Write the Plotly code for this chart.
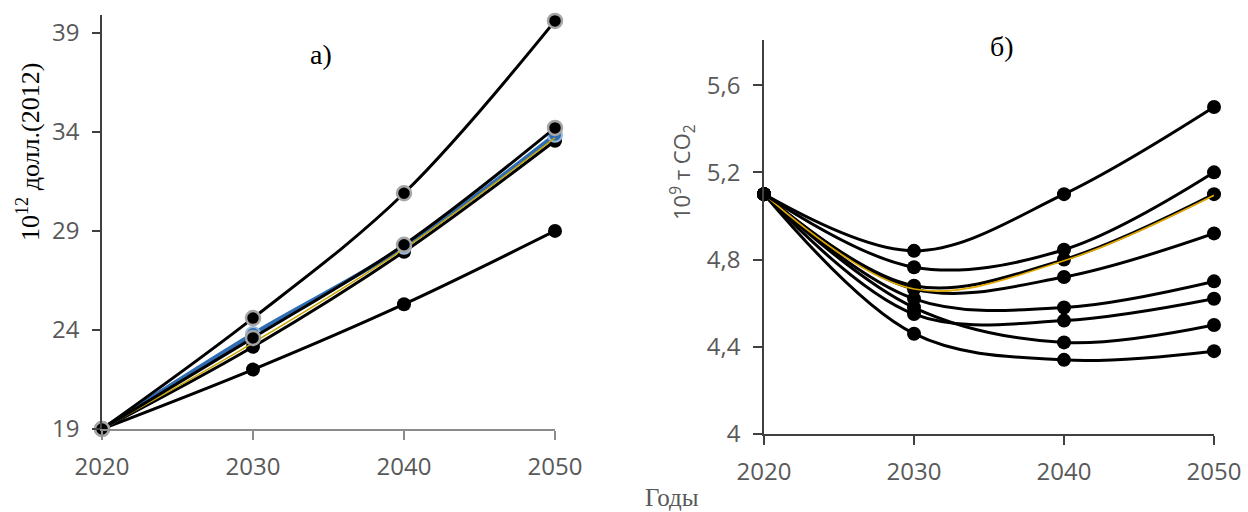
import plotly.graph_objects as go

years = [2020, 2030, 2040, 2050]

# Panel а) GDP, 10^12 dollars (2012)
gdp_top = [19, 24.6, 30.9, 39.6]
gdp_blue = [19, 23.8, 28.2, 33.85]
gdp_mid_a = [19, 23.6, 28.3, 34.2]
gdp_mid_b = [19, 23.15, 27.95, 33.55]
gdp_yellow = [19, 23.35, 28.1, 33.7]
gdp_low = [19, 22.0, 25.3, 29.0]

left_yticks = [19, 24, 29, 34, 39]
left_yticktext = ["19", "24", "29", "34", "39"]

# Panel б) CO2 emissions, 10^9 t
co2_s1 = [5.1, 4.84, 5.1, 5.5]
co2_s2 = [5.1, 4.765, 4.845, 5.2]
co2_s3 = [5.1, 4.68, 4.80, 5.1]
co2_yellow = [5.1, 4.665, 4.795, 5.095]
co2_s4 = [5.1, 4.665, 4.72, 4.92]
co2_s5 = [5.1, 4.62, 4.58, 4.70]
co2_s6 = [5.1, 4.55, 4.52, 4.62]
co2_s7 = [5.1, 4.58, 4.42, 4.50]
co2_s8 = [5.1, 4.46, 4.34, 4.38]

right_yticks = [4, 4.4, 4.8, 5.2, 5.6]
right_yticktext = ["4", "4,4", "4,8", "5,2", "5,6"]

xticktext = ["2020", "2030", "2040", "2050"]

fig = go.Figure()

def add(x, y, xa, ya, color="black", width=3, msize=14, mcolor="black",
        mline="black", mlw=0, markers=True):
    fig.add_trace(go.Scatter(
        x=x, y=y, xaxis=xa, yaxis=ya,
        mode="lines+markers" if markers else "lines",
        line=dict(color=color, width=width, shape="spline", smoothing=1),
        marker=dict(size=msize, color=mcolor, line=dict(color=mline, width=mlw)),
        cliponaxis=False, showlegend=False, hoverinfo="skip"))

# left panel
add(years, gdp_low, "x", "y")
add(years, gdp_mid_b, "x", "y")
add(years, gdp_blue, "x", "y", color="#2E6DB4", width=4, mcolor="#2E6DB4",
    mline="#9DB8DC", mlw=2)
add(years, gdp_yellow, "x", "y", color="#C8A400", width=1.5, markers=False)
add(years, gdp_mid_a, "x", "y", mcolor="black", mline="#A6A6A6", mlw=2.5)
add(years, gdp_top, "x", "y", mcolor="black", mline="#A6A6A6", mlw=2.5)

# right panel
for s in [co2_s8, co2_s7, co2_s6, co2_s5, co2_s4, co2_s3]:
    add(years, s, "x2", "y2", msize=14)
add(years, co2_yellow, "x2", "y2", color="#E0A800", width=1.6, markers=False)
for s in [co2_s2, co2_s1]:
    add(years, s, "x2", "y2", msize=14)

tickfont = dict(family="Open Sans", size=24, color="#595959")

common = dict(showgrid=False, zeroline=False, showline=True, linewidth=1.5,
              ticks="outside", tickwidth=1.5, automargin=False, tickfont=tickfont)

fig.update_layout(
    width=1248, height=512,
    margin=dict(l=0, r=0, t=0, b=0),
    paper_bgcolor="white", plot_bgcolor="white",
    xaxis=dict(domain=[102/1248, 555/1248], range=[2020, 2050],
               tickvals=years, ticktext=xticktext,
               linecolor="#8C8C8C", ticklen=9, tickcolor="#8C8C8C",
               anchor="y", ticklabelstandoff=6, **common),
    yaxis=dict(domain=[(512-429)/512, (512-15)/512], range=[19, 39.9],
               tickvals=left_yticks, ticktext=left_yticktext,
               linecolor="#404040", ticklen=8, tickcolor="#404040",
               anchor="x", ticklabelstandoff=8, **common),
    xaxis2=dict(domain=[764/1248, 1214/1248], range=[2020, 2050],
                tickvals=years, ticktext=xticktext,
                linecolor="#404040", ticklen=9, tickcolor="#404040",
                anchor="y2", ticklabelstandoff=6, **common),
    yaxis2=dict(domain=[(512-434)/512, (512-40)/512], range=[4, 5.807],
                tickvals=right_yticks, ticktext=right_yticktext,
                linecolor="#404040", ticklen=9, tickcolor="#404040",
                anchor="x2", ticklabelstandoff=8, **common),
)

serif = "Liberation Serif"
ann = [
    dict(text="10<sup>12</sup> долл.(2012)", x=28, y=152, textangle=-90,
         font=dict(family=serif, size=26, color="black")),
    dict(text="10<sup>9</sup> т CO<sub>2</sub>", x=682, y=172, textangle=-90,
         font=dict(family="Open Sans", size=22, color="#595959")),
    dict(text="а)", x=321, y=54, font=dict(family=serif, size=28, color="black")),
    dict(text="б)", x=1002, y=46, font=dict(family=serif, size=28, color="black")),
    dict(text="Годы", x=672, y=497, font=dict(family=serif, size=25, color="#595959")),
]
for a in ann:
    fig.add_annotation(text=a["text"], x=a["x"]/1248, y=1 - a["y"]/512,
                       xref="paper", yref="paper", showarrow=False,
                       xanchor="center", yanchor="middle",
                       textangle=a.get("textangle", 0), font=a["font"])

fig.write_html("out.html")
